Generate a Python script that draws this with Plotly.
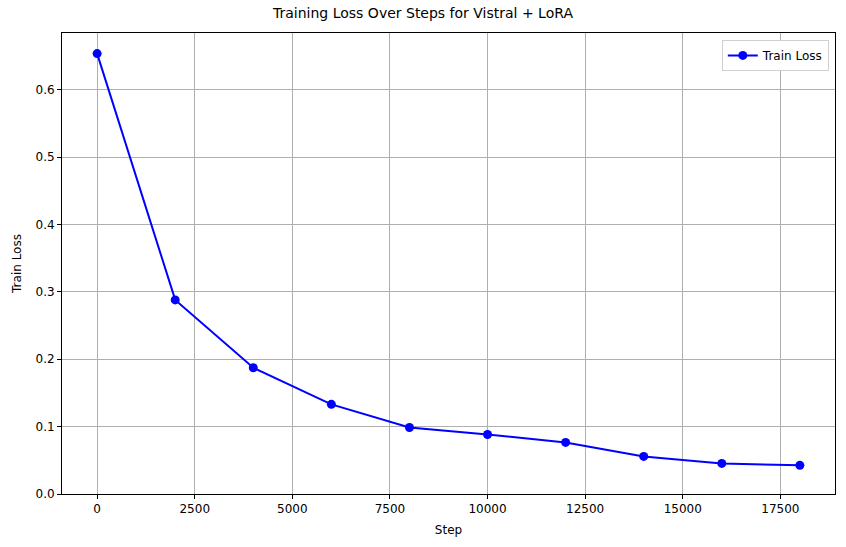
import plotly.graph_objects as go

# Data
steps = [0, 2000, 4000, 6000, 8000, 10000, 12000, 14000, 16000, 18000]
train_loss = [0.6534, 0.288, 0.1874, 0.133, 0.0987, 0.0883, 0.0765, 0.0558, 0.0454, 0.0425]
x_ticks = [0, 2500, 5000, 7500, 10000, 12500, 15000, 17500]
y_ticks = [0.0, 0.1, 0.2, 0.3, 0.4, 0.5, 0.6]

fig = go.Figure()

fig.add_trace(go.Scatter(
    x=steps,
    y=train_loss,
    mode='lines+markers',
    name='Train Loss',
    line=dict(color='blue', width=2),
    marker=dict(color='blue', size=9),
))

axis_style = dict(
    showline=True, mirror=True, linecolor='black', linewidth=1,
    ticks='outside', ticklen=4, tickcolor='black',
    showgrid=True, gridcolor='#b0b0b0', gridwidth=1,
    zeroline=False, automargin=False,
    tickfont=dict(size=12, color='black'),
)

fig.update_layout(
    width=846, height=547,
    margin=dict(l=62, r=11, t=33, b=53),
    paper_bgcolor='white', plot_bgcolor='white',
    font=dict(family='DejaVu Sans', size=12, color='black'),
    title=dict(text='Training Loss Over Steps for Vistral + LoRA',
               x=0.5, xanchor='center', y=1 - 13 / 547, yanchor='middle',
               font=dict(size=14), automargin=False),
    xaxis=dict(title=dict(text='Step', standoff=10, font=dict(size=12)),
               range=[-900, 18900],
               tickvals=x_ticks, ticktext=[str(v) for v in x_ticks],
               **axis_style),
    yaxis=dict(title=dict(text='Train Loss', standoff=11, font=dict(size=12)),
               range=[0, 0.684],
               tickvals=y_ticks, ticktext=[f'{v:.1f}' for v in y_ticks],
               **axis_style),
    showlegend=True,
    legend=dict(x=0.992, xanchor='right', y=0.985, yanchor='top',
                bordercolor='#d0d0d0', borderwidth=1, bgcolor='white',
                font=dict(size=12)),
)

# drop the default page margin so the figure sits at the window corner
fig.write_html("out.html", config={"displayModeBar": False},
               post_script="document.body.style.margin='0';")
